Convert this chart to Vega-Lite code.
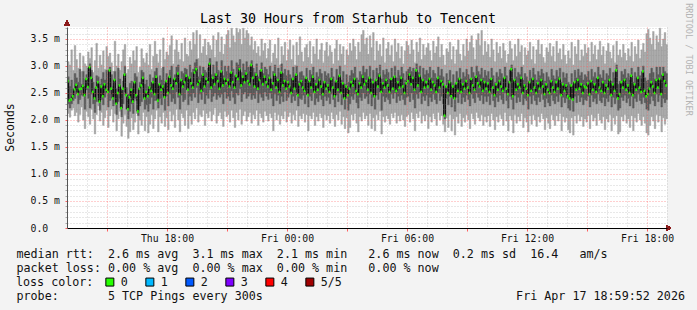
{
"$schema": "https://vega.github.io/schema/vega-lite/v6.json",
"width": 600, "height": 201,
"autosize": {"type": "none"},
"padding": {"left": 67, "top": 27, "right": 30, "bottom": 82},
"background": "#f3f3f3",
"config": {"view": {"fill": "#ffffff", "stroke": null}, "font": "DejaVu Sans Mono"},
"title": {"text": "Last 30 Hours from Starhub to Tencent", "font": "DejaVu Sans Mono", "fontSize": 13.3, "fontWeight": "normal", "color": "#000000", "anchor": "middle", "frame": "group", "dx": -19, "dy": 38, "offset": 4, "baseline": "alphabetic"},
"data": {"values": [
{"t":"2026-04-16T13:00Z","a":2.12,"b":2.30,"m":2.72,"d":2.80,"e":3.08},
{"t":"2026-04-16T13:05Z","a":2.05,"b":2.22,"m":2.36,"d":2.62,"e":3.02},
{"t":"2026-04-16T13:10Z","a":2.18,"b":2.30,"m":2.38,"d":2.74,"e":3.30},
{"t":"2026-04-16T13:15Z","a":2.22,"b":2.36,"m":2.44,"d":2.58,"e":2.92},
{"t":"2026-04-16T13:20Z","a":2.08,"b":2.40,"m":2.57,"d":2.86,"e":3.38},
{"t":"2026-04-16T13:25Z","a":2.14,"b":2.52,"m":2.65,"d":2.78,"e":3.12},
{"t":"2026-04-16T13:30Z","a":1.96,"b":2.30,"m":2.48,"d":2.70,"e":2.96},
{"t":"2026-04-16T13:35Z","a":2.10,"b":2.38,"m":2.57,"d":2.94,"e":3.24},
{"t":"2026-04-16T13:40Z","a":2.24,"b":2.46,"m":2.58,"d":2.66,"e":2.90},
{"t":"2026-04-16T13:45Z","a":2.00,"b":2.44,"m":2.63,"d":2.90,"e":3.18},
{"t":"2026-04-16T13:50Z","a":1.84,"b":2.20,"m":2.46,"d":2.62,"e":3.04},
{"t":"2026-04-16T13:55Z","a":2.16,"b":2.56,"m":2.76,"d":2.84,"e":3.00},
{"t":"2026-04-16T14:00Z","a":2.06,"b":2.40,"m":2.61,"d":2.96,"e":3.26},
{"t":"2026-04-16T14:05Z","a":1.92,"b":2.22,"m":2.98,"d":3.04,"e":3.14},
{"t":"2026-04-16T14:10Z","a":2.20,"b":2.48,"m":2.78,"d":2.92,"e":3.34},
{"t":"2026-04-16T14:15Z","a":2.02,"b":2.30,"m":2.52,"d":2.70,"e":2.88},
{"t":"2026-04-16T14:20Z","a":1.74,"b":2.14,"m":2.40,"d":2.58,"e":3.10},
{"t":"2026-04-16T14:25Z","a":2.10,"b":2.34,"m":2.60,"d":2.82,"e":3.42},
{"t":"2026-04-16T14:30Z","a":2.26,"b":2.46,"m":2.70,"d":2.80,"e":2.96},
{"t":"2026-04-16T14:35Z","a":1.98,"b":2.18,"m":2.34,"d":2.66,"e":3.20},
{"t":"2026-04-16T14:40Z","a":2.14,"b":2.38,"m":2.62,"d":2.76,"e":3.02},
{"t":"2026-04-16T14:45Z","a":1.90,"b":2.28,"m":2.44,"d":2.88,"e":3.28},
{"t":"2026-04-16T14:50Z","a":2.04,"b":2.42,"m":2.66,"d":2.74,"e":2.94},
{"t":"2026-04-16T14:55Z","a":2.18,"b":2.50,"m":2.56,"d":2.92,"e":3.36},
{"t":"2026-04-16T15:00Z","a":1.86,"b":2.24,"m":2.52,"d":2.70,"e":3.18},
{"t":"2026-04-16T15:05Z","a":2.08,"b":2.36,"m":2.92,"d":2.98,"e":3.24},
{"t":"2026-04-16T15:10Z","a":2.20,"b":2.48,"m":2.58,"d":2.84,"e":3.06},
{"t":"2026-04-16T15:15Z","a":1.96,"b":2.26,"m":2.40,"d":2.62,"e":2.90},
{"t":"2026-04-16T15:20Z","a":2.12,"b":2.44,"m":2.74,"d":2.90,"e":3.46},
{"t":"2026-04-16T15:25Z","a":1.80,"b":2.10,"m":2.30,"d":2.58,"e":3.00},
{"t":"2026-04-16T15:30Z","a":2.02,"b":2.34,"m":2.50,"d":2.96,"e":3.22},
{"t":"2026-04-16T15:35Z","a":2.16,"b":2.40,"m":2.64,"d":2.76,"e":2.92},
{"t":"2026-04-16T15:40Z","a":1.70,"b":2.06,"m":2.22,"d":2.54,"e":3.08},
{"t":"2026-04-16T15:45Z","a":1.94,"b":2.30,"m":2.58,"d":2.72,"e":3.30},
{"t":"2026-04-16T15:50Z","a":2.10,"b":2.52,"m":2.84,"d":3.00,"e":3.40},
{"t":"2026-04-16T15:55Z","a":1.88,"b":2.20,"m":2.46,"d":2.60,"e":2.86},
{"t":"2026-04-16T16:00Z","a":1.66,"b":2.02,"m":2.20,"d":2.48,"e":2.94},
{"t":"2026-04-16T16:05Z","a":1.78,"b":2.16,"m":2.42,"d":2.68,"e":3.16},
{"t":"2026-04-16T16:10Z","a":2.04,"b":2.30,"m":2.56,"d":2.72,"e":3.04},
{"t":"2026-04-16T16:15Z","a":1.82,"b":2.12,"m":2.34,"d":2.62,"e":3.28},
{"t":"2026-04-16T16:20Z","a":1.96,"b":2.40,"m":2.70,"d":2.86,"e":3.10},
{"t":"2026-04-16T16:25Z","a":2.12,"b":2.36,"m":2.46,"d":2.80,"e":3.36},
{"t":"2026-04-16T16:30Z","a":1.74,"b":2.08,"m":2.16,"d":2.44,"e":2.88},
{"t":"2026-04-16T16:35Z","a":2.00,"b":2.26,"m":2.58,"d":2.70,"e":2.98},
{"t":"2026-04-16T16:40Z","a":1.90,"b":2.34,"m":2.64,"d":2.92,"e":3.32},
{"t":"2026-04-16T16:45Z","a":2.14,"b":2.50,"m":2.78,"d":2.88,"e":3.14},
{"t":"2026-04-16T16:50Z","a":1.80,"b":2.20,"m":2.40,"d":2.66,"e":3.06},
{"t":"2026-04-16T16:55Z","a":2.06,"b":2.28,"m":2.52,"d":2.74,"e":3.24},
{"t":"2026-04-16T17:00Z","a":1.76,"b":2.16,"m":2.44,"d":2.62,"e":3.02},
{"t":"2026-04-16T17:05Z","a":1.92,"b":2.30,"m":2.60,"d":2.84,"e":3.40},
{"t":"2026-04-16T17:10Z","a":2.10,"b":2.42,"m":2.54,"d":2.70,"e":2.94},
{"t":"2026-04-16T17:15Z","a":1.84,"b":2.20,"m":2.70,"d":2.78,"e":3.18},
{"t":"2026-04-16T17:20Z","a":2.02,"b":2.36,"m":2.48,"d":2.90,"e":3.46},
{"t":"2026-04-16T17:25Z","a":2.18,"b":2.50,"m":2.80,"d":2.96,"e":3.22},
{"t":"2026-04-16T17:30Z","a":1.78,"b":2.22,"m":2.36,"d":2.60,"e":3.06},
{"t":"2026-04-16T17:35Z","a":2.06,"b":2.40,"m":2.66,"d":2.82,"e":3.30},
{"t":"2026-04-16T17:40Z","a":1.94,"b":2.28,"m":2.56,"d":2.74,"e":2.96},
{"t":"2026-04-16T17:45Z","a":2.14,"b":2.46,"m":2.62,"d":2.98,"e":3.52},
{"t":"2026-04-16T17:50Z","a":1.88,"b":2.18,"m":2.42,"d":2.66,"e":3.12},
{"t":"2026-04-16T17:55Z","a":2.04,"b":2.44,"m":2.72,"d":2.86,"e":3.26},
{"t":"2026-04-16T18:00Z","a":1.82,"b":2.26,"m":2.50,"d":2.78,"e":3.20},
{"t":"2026-04-16T18:05Z","a":2.16,"b":2.48,"m":2.80,"d":2.92,"e":3.38},
{"t":"2026-04-16T18:10Z","a":1.98,"b":2.34,"m":2.64,"d":3.00,"e":3.56},
{"t":"2026-04-16T18:15Z","a":2.10,"b":2.40,"m":2.58,"d":2.74,"e":3.04},
{"t":"2026-04-16T18:20Z","a":1.86,"b":2.30,"m":2.76,"d":2.84,"e":3.30},
{"t":"2026-04-16T18:25Z","a":2.20,"b":2.52,"m":2.68,"d":2.98,"e":3.48},
{"t":"2026-04-16T18:30Z","a":2.00,"b":2.42,"m":2.86,"d":3.02,"e":3.26},
{"t":"2026-04-16T18:35Z","a":1.78,"b":2.20,"m":2.48,"d":2.70,"e":3.12},
{"t":"2026-04-16T18:40Z","a":2.12,"b":2.46,"m":2.74,"d":2.90,"e":3.42},
{"t":"2026-04-16T18:45Z","a":2.04,"b":2.34,"m":2.62,"d":2.86,"e":3.08},
{"t":"2026-04-16T18:50Z","a":1.90,"b":2.38,"m":2.70,"d":2.96,"e":3.52},
{"t":"2026-04-16T18:55Z","a":2.18,"b":2.56,"m":2.82,"d":2.94,"e":3.22},
{"t":"2026-04-16T19:00Z","a":1.84,"b":2.28,"m":2.56,"d":2.80,"e":3.18},
{"t":"2026-04-16T19:05Z","a":2.08,"b":2.44,"m":2.78,"d":3.02,"e":3.46},
{"t":"2026-04-16T19:10Z","a":1.92,"b":2.36,"m":2.68,"d":2.88,"e":3.30},
{"t":"2026-04-16T19:15Z","a":2.14,"b":2.50,"m":2.60,"d":2.94,"e":3.62},
{"t":"2026-04-16T19:20Z","a":2.02,"b":2.42,"m":2.88,"d":3.06,"e":3.40},
{"t":"2026-04-16T19:25Z","a":2.22,"b":2.60,"m":2.94,"d":3.12,"e":3.66},
{"t":"2026-04-16T19:30Z","a":1.96,"b":2.32,"m":2.66,"d":2.80,"e":3.14},
{"t":"2026-04-16T19:35Z","a":2.10,"b":2.48,"m":2.72,"d":3.00,"e":3.58},
{"t":"2026-04-16T19:40Z","a":2.06,"b":2.38,"m":2.54,"d":2.78,"e":3.24},
{"t":"2026-04-16T19:45Z","a":2.18,"b":2.52,"m":2.84,"d":2.98,"e":3.36},
{"t":"2026-04-16T19:50Z","a":1.90,"b":2.30,"m":2.62,"d":2.92,"e":3.50},
{"t":"2026-04-16T19:55Z","a":2.12,"b":2.46,"m":2.76,"d":2.88,"e":3.20},
{"t":"2026-04-16T20:00Z","a":2.04,"b":2.40,"m":2.70,"d":2.96,"e":3.44},
{"t":"2026-04-16T20:05Z","a":2.16,"b":2.56,"m":3.04,"d":3.14,"e":3.38},
{"t":"2026-04-16T20:10Z","a":1.98,"b":2.34,"m":2.60,"d":2.84,"e":3.30},
{"t":"2026-04-16T20:15Z","a":2.10,"b":2.44,"m":2.78,"d":3.02,"e":3.56},
{"t":"2026-04-16T20:20Z","a":2.22,"b":2.50,"m":2.66,"d":2.86,"e":3.16},
{"t":"2026-04-16T20:25Z","a":1.94,"b":2.38,"m":2.84,"d":3.08,"e":3.48},
{"t":"2026-04-16T20:30Z","a":2.08,"b":2.46,"m":2.72,"d":2.92,"e":3.62},
{"t":"2026-04-16T20:35Z","a":2.14,"b":2.42,"m":2.58,"d":2.80,"e":3.26},
{"t":"2026-04-16T20:40Z","a":2.02,"b":2.48,"m":2.90,"d":3.10,"e":3.54},
{"t":"2026-04-16T20:45Z","a":1.88,"b":2.30,"m":2.64,"d":2.82,"e":3.22},
{"t":"2026-04-16T20:50Z","a":2.16,"b":2.52,"m":2.76,"d":3.00,"e":3.40},
{"t":"2026-04-16T20:55Z","a":2.06,"b":2.40,"m":2.68,"d":2.90,"e":3.58},
{"t":"2026-04-16T21:00Z","a":2.10,"b":2.44,"m":2.74,"d":3.00,"e":3.66},
{"t":"2026-04-16T21:05Z","a":1.96,"b":2.36,"m":2.62,"d":2.86,"e":3.34},
{"t":"2026-04-16T21:10Z","a":2.18,"b":2.54,"m":2.88,"d":3.10,"e":3.70},
{"t":"2026-04-16T21:15Z","a":2.04,"b":2.42,"m":2.70,"d":2.94,"e":3.56},
{"t":"2026-04-16T21:20Z","a":1.86,"b":2.30,"m":2.60,"d":2.82,"e":3.44},
{"t":"2026-04-16T21:25Z","a":2.14,"b":2.50,"m":2.82,"d":3.06,"e":3.70},
{"t":"2026-04-16T21:30Z","a":2.00,"b":2.46,"m":2.76,"d":3.02,"e":3.62},
{"t":"2026-04-16T21:35Z","a":2.20,"b":2.58,"m":2.94,"d":3.12,"e":3.68},
{"t":"2026-04-16T21:40Z","a":1.92,"b":2.34,"m":2.64,"d":2.88,"e":3.40},
{"t":"2026-04-16T21:45Z","a":2.08,"b":2.48,"m":2.80,"d":3.04,"e":3.70},
{"t":"2026-04-16T21:50Z","a":2.16,"b":2.52,"m":2.70,"d":2.92,"e":3.52},
{"t":"2026-04-16T21:55Z","a":1.98,"b":2.40,"m":2.86,"d":3.08,"e":3.66},
{"t":"2026-04-16T22:00Z","a":2.06,"b":2.44,"m":2.72,"d":2.98,"e":3.60},
{"t":"2026-04-16T22:05Z","a":2.14,"b":2.50,"m":2.66,"d":2.90,"e":3.38},
{"t":"2026-04-16T22:10Z","a":1.94,"b":2.38,"m":3.02,"d":3.10,"e":3.54},
{"t":"2026-04-16T22:15Z","a":2.10,"b":2.46,"m":2.78,"d":2.96,"e":3.30},
{"t":"2026-04-16T22:20Z","a":2.02,"b":2.40,"m":2.62,"d":2.88,"e":3.46},
{"t":"2026-04-16T22:25Z","a":2.18,"b":2.54,"m":2.84,"d":3.04,"e":3.24},
{"t":"2026-04-16T22:30Z","a":1.90,"b":2.32,"m":2.58,"d":2.80,"e":3.36},
{"t":"2026-04-16T22:35Z","a":2.12,"b":2.48,"m":2.74,"d":2.92,"e":3.18},
{"t":"2026-04-16T22:40Z","a":2.04,"b":2.42,"m":2.92,"d":3.06,"e":3.50},
{"t":"2026-04-16T22:45Z","a":1.96,"b":2.36,"m":2.66,"d":2.86,"e":3.28},
{"t":"2026-04-16T22:50Z","a":2.16,"b":2.52,"m":2.80,"d":2.98,"e":3.42},
{"t":"2026-04-16T22:55Z","a":2.08,"b":2.44,"m":2.70,"d":2.94,"e":3.14},
{"t":"2026-04-16T23:00Z","a":1.98,"b":2.38,"m":2.62,"d":2.84,"e":3.32},
{"t":"2026-04-16T23:05Z","a":2.12,"b":2.50,"m":2.78,"d":3.00,"e":3.48},
{"t":"2026-04-16T23:10Z","a":2.04,"b":2.40,"m":2.56,"d":2.76,"e":3.06},
{"t":"2026-04-16T23:15Z","a":1.80,"b":2.26,"m":2.68,"d":2.90,"e":3.24},
{"t":"2026-04-16T23:20Z","a":2.14,"b":2.48,"m":2.84,"d":3.02,"e":3.40},
{"t":"2026-04-16T23:25Z","a":2.00,"b":2.36,"m":2.60,"d":2.80,"e":3.14},
{"t":"2026-04-16T23:30Z","a":2.10,"b":2.46,"m":2.74,"d":2.96,"e":3.52},
{"t":"2026-04-16T23:35Z","a":1.92,"b":2.30,"m":2.52,"d":2.74,"e":3.02},
{"t":"2026-04-16T23:40Z","a":2.08,"b":2.44,"m":2.88,"d":3.04,"e":3.36},
{"t":"2026-04-16T23:45Z","a":2.02,"b":2.34,"m":2.64,"d":2.86,"e":3.20},
{"t":"2026-04-16T23:50Z","a":2.16,"b":2.52,"m":2.72,"d":2.94,"e":3.44},
{"t":"2026-04-16T23:55Z","a":1.96,"b":2.36,"m":2.58,"d":2.82,"e":3.10},
{"t":"2026-04-17T00:00Z","a":2.06,"b":2.42,"m":2.70,"d":2.92,"e":3.30},
{"t":"2026-04-17T00:05Z","a":2.14,"b":2.48,"m":2.62,"d":2.84,"e":3.48},
{"t":"2026-04-17T00:10Z","a":1.94,"b":2.32,"m":2.50,"d":2.78,"e":3.12},
{"t":"2026-04-17T00:15Z","a":2.10,"b":2.44,"m":2.76,"d":2.98,"e":3.38},
{"t":"2026-04-17T00:20Z","a":2.00,"b":2.36,"m":2.58,"d":2.80,"e":3.02},
{"t":"2026-04-17T00:25Z","a":2.18,"b":2.52,"m":2.84,"d":3.00,"e":3.44},
{"t":"2026-04-17T00:30Z","a":1.88,"b":2.26,"m":2.46,"d":2.72,"e":3.20},
{"t":"2026-04-17T00:35Z","a":2.08,"b":2.40,"m":2.66,"d":2.88,"e":3.54},
{"t":"2026-04-17T00:40Z","a":2.02,"b":2.38,"m":2.72,"d":2.90,"e":3.26},
{"t":"2026-04-17T00:45Z","a":2.12,"b":2.46,"m":2.60,"d":2.82,"e":3.08},
{"t":"2026-04-17T00:50Z","a":1.96,"b":2.30,"m":2.54,"d":2.76,"e":3.34},
{"t":"2026-04-17T00:55Z","a":2.10,"b":2.48,"m":2.78,"d":2.96,"e":3.40},
{"t":"2026-04-17T01:00Z","a":1.80,"b":2.24,"m":2.46,"d":2.70,"e":3.16},
{"t":"2026-04-17T01:05Z","a":2.08,"b":2.44,"m":2.72,"d":2.92,"e":3.46},
{"t":"2026-04-17T01:10Z","a":2.02,"b":2.36,"m":2.60,"d":2.84,"e":3.04},
{"t":"2026-04-17T01:15Z","a":2.14,"b":2.50,"m":2.80,"d":2.98,"e":3.36},
{"t":"2026-04-17T01:20Z","a":1.90,"b":2.28,"m":2.52,"d":2.74,"e":3.22},
{"t":"2026-04-17T01:25Z","a":2.06,"b":2.40,"m":2.66,"d":2.88,"e":3.50},
{"t":"2026-04-17T01:30Z","a":1.98,"b":2.34,"m":2.56,"d":2.80,"e":3.12},
{"t":"2026-04-17T01:35Z","a":2.12,"b":2.46,"m":2.74,"d":2.94,"e":3.30},
{"t":"2026-04-17T01:40Z","a":2.04,"b":2.38,"m":2.62,"d":2.86,"e":3.42},
{"t":"2026-04-17T01:45Z","a":1.86,"b":2.26,"m":2.48,"d":2.72,"e":3.06},
{"t":"2026-04-17T01:50Z","a":2.10,"b":2.44,"m":2.70,"d":2.90,"e":3.28},
{"t":"2026-04-17T01:55Z","a":2.00,"b":2.36,"m":2.58,"d":2.82,"e":3.44},
{"t":"2026-04-17T02:00Z","a":2.08,"b":2.42,"m":2.64,"d":2.86,"e":3.18},
{"t":"2026-04-17T02:05Z","a":1.94,"b":2.30,"m":2.52,"d":2.78,"e":3.38},
{"t":"2026-04-17T02:10Z","a":2.14,"b":2.48,"m":2.76,"d":2.96,"e":3.26},
{"t":"2026-04-17T02:15Z","a":2.02,"b":2.38,"m":2.60,"d":2.80,"e":3.04},
{"t":"2026-04-17T02:20Z","a":1.88,"b":2.24,"m":2.44,"d":2.70,"e":3.32},
{"t":"2026-04-17T02:25Z","a":2.10,"b":2.46,"m":2.72,"d":2.94,"e":3.48},
{"t":"2026-04-17T02:30Z","a":2.00,"b":2.34,"m":2.56,"d":2.78,"e":3.10},
{"t":"2026-04-17T02:35Z","a":2.16,"b":2.50,"m":2.82,"d":3.00,"e":3.40},
{"t":"2026-04-17T02:40Z","a":1.92,"b":2.28,"m":2.50,"d":2.74,"e":3.22},
{"t":"2026-04-17T02:45Z","a":2.06,"b":2.42,"m":2.68,"d":2.90,"e":3.36},
{"t":"2026-04-17T02:50Z","a":1.84,"b":2.20,"m":2.40,"d":2.66,"e":3.02},
{"t":"2026-04-17T02:55Z","a":2.04,"b":2.40,"m":2.62,"d":2.84,"e":3.30},
{"t":"2026-04-17T03:00Z","a":1.76,"b":2.18,"m":2.46,"d":2.70,"e":3.20},
{"t":"2026-04-17T03:05Z","a":1.86,"b":2.30,"m":2.58,"d":2.82,"e":3.42},
{"t":"2026-04-17T03:10Z","a":2.10,"b":2.44,"m":2.70,"d":2.92,"e":3.28},
{"t":"2026-04-17T03:15Z","a":2.00,"b":2.38,"m":2.64,"d":2.86,"e":3.50},
{"t":"2026-04-17T03:20Z","a":2.12,"b":2.48,"m":2.76,"d":2.98,"e":3.36},
{"t":"2026-04-17T03:25Z","a":1.94,"b":2.32,"m":2.54,"d":2.78,"e":3.12},
{"t":"2026-04-17T03:30Z","a":1.78,"b":2.22,"m":2.48,"d":2.74,"e":3.44},
{"t":"2026-04-17T03:35Z","a":2.06,"b":2.42,"m":2.68,"d":2.90,"e":3.26},
{"t":"2026-04-17T03:40Z","a":1.98,"b":2.36,"m":2.60,"d":2.84,"e":3.58},
{"t":"2026-04-17T03:45Z","a":2.14,"b":2.50,"m":2.80,"d":3.00,"e":3.66},
{"t":"2026-04-17T03:50Z","a":2.02,"b":2.40,"m":2.66,"d":2.88,"e":3.40},
{"t":"2026-04-17T03:55Z","a":2.08,"b":2.44,"m":2.72,"d":2.94,"e":3.52},
{"t":"2026-04-17T04:00Z","a":1.90,"b":2.30,"m":2.56,"d":2.80,"e":3.22},
{"t":"2026-04-17T04:05Z","a":2.12,"b":2.48,"m":2.78,"d":3.00,"e":3.56},
{"t":"2026-04-17T04:10Z","a":1.84,"b":2.26,"m":2.50,"d":2.76,"e":3.34},
{"t":"2026-04-17T04:15Z","a":2.04,"b":2.42,"m":2.70,"d":2.92,"e":3.62},
{"t":"2026-04-17T04:20Z","a":1.80,"b":2.20,"m":2.44,"d":2.70,"e":3.10},
{"t":"2026-04-17T04:25Z","a":2.10,"b":2.46,"m":2.74,"d":2.96,"e":3.46},
{"t":"2026-04-17T04:30Z","a":2.00,"b":2.38,"m":2.62,"d":2.86,"e":3.28},
{"t":"2026-04-17T04:35Z","a":2.16,"b":2.52,"m":2.82,"d":3.02,"e":3.40},
{"t":"2026-04-17T04:40Z","a":1.74,"b":2.18,"m":2.52,"d":2.76,"e":3.18},
{"t":"2026-04-17T04:45Z","a":2.06,"b":2.44,"m":2.68,"d":2.92,"e":3.52},
{"t":"2026-04-17T04:50Z","a":1.96,"b":2.34,"m":2.60,"d":2.84,"e":3.06},
{"t":"2026-04-17T04:55Z","a":2.08,"b":2.42,"m":2.74,"d":2.94,"e":3.32},
{"t":"2026-04-17T05:00Z","a":2.02,"b":2.38,"m":2.64,"d":2.88,"e":3.44},
{"t":"2026-04-17T05:05Z","a":1.92,"b":2.30,"m":2.52,"d":2.76,"e":3.20},
{"t":"2026-04-17T05:10Z","a":2.12,"b":2.48,"m":2.76,"d":2.96,"e":3.38},
{"t":"2026-04-17T05:15Z","a":2.04,"b":2.40,"m":2.58,"d":2.80,"e":3.08},
{"t":"2026-04-17T05:20Z","a":2.14,"b":2.50,"m":2.80,"d":3.00,"e":3.50},
{"t":"2026-04-17T05:25Z","a":1.94,"b":2.32,"m":2.54,"d":2.78,"e":3.26},
{"t":"2026-04-17T05:30Z","a":2.08,"b":2.44,"m":2.70,"d":2.92,"e":3.42},
{"t":"2026-04-17T05:35Z","a":1.98,"b":2.36,"m":2.60,"d":2.82,"e":3.14},
{"t":"2026-04-17T05:40Z","a":2.10,"b":2.46,"m":2.78,"d":2.98,"e":3.36},
{"t":"2026-04-17T05:45Z","a":2.00,"b":2.38,"m":2.62,"d":2.86,"e":3.04},
{"t":"2026-04-17T05:50Z","a":1.88,"b":2.28,"m":2.50,"d":2.74,"e":3.28},
{"t":"2026-04-17T05:55Z","a":2.06,"b":2.42,"m":2.68,"d":2.90,"e":3.46},
{"t":"2026-04-17T06:00Z","a":2.10,"b":2.44,"m":2.72,"d":2.94,"e":3.38},
{"t":"2026-04-17T06:05Z","a":1.96,"b":2.34,"m":2.84,"d":2.98,"e":3.22},
{"t":"2026-04-17T06:10Z","a":2.14,"b":2.50,"m":2.66,"d":2.90,"e":3.48},
{"t":"2026-04-17T06:15Z","a":2.02,"b":2.38,"m":2.78,"d":2.96,"e":3.30},
{"t":"2026-04-17T06:20Z","a":1.80,"b":2.22,"m":2.56,"d":2.80,"e":3.06},
{"t":"2026-04-17T06:25Z","a":2.12,"b":2.48,"m":2.92,"d":3.04,"e":3.44},
{"t":"2026-04-17T06:30Z","a":2.04,"b":2.40,"m":2.64,"d":2.88,"e":3.26},
{"t":"2026-04-17T06:35Z","a":2.16,"b":2.52,"m":2.82,"d":3.00,"e":3.52},
{"t":"2026-04-17T06:40Z","a":1.94,"b":2.30,"m":2.52,"d":2.76,"e":3.12},
{"t":"2026-04-17T06:45Z","a":2.08,"b":2.44,"m":2.74,"d":2.96,"e":3.40},
{"t":"2026-04-17T06:50Z","a":1.98,"b":2.36,"m":2.60,"d":2.84,"e":3.20},
{"t":"2026-04-17T06:55Z","a":2.10,"b":2.46,"m":2.70,"d":2.92,"e":3.34},
{"t":"2026-04-17T07:00Z","a":1.84,"b":2.26,"m":2.62,"d":2.86,"e":3.42},
{"t":"2026-04-17T07:05Z","a":2.06,"b":2.42,"m":2.76,"d":2.98,"e":3.28},
{"t":"2026-04-17T07:10Z","a":1.96,"b":2.34,"m":2.56,"d":2.78,"e":3.10},
{"t":"2026-04-17T07:15Z","a":2.12,"b":2.48,"m":2.70,"d":2.92,"e":3.46},
{"t":"2026-04-17T07:20Z","a":2.02,"b":2.38,"m":2.64,"d":2.86,"e":3.24},
{"t":"2026-04-17T07:25Z","a":1.90,"b":2.30,"m":2.52,"d":2.74,"e":3.36},
{"t":"2026-04-17T07:30Z","a":2.14,"b":2.50,"m":2.78,"d":2.98,"e":3.54},
{"t":"2026-04-17T07:35Z","a":2.00,"b":2.36,"m":2.60,"d":2.82,"e":3.16},
{"t":"2026-04-17T07:40Z","a":2.08,"b":2.44,"m":2.72,"d":2.94,"e":3.40},
{"t":"2026-04-17T07:45Z","a":1.92,"b":2.30,"m":2.66,"d":2.80,"e":3.20},
{"t":"2026-04-17T07:50Z","a":1.78,"b":2.02,"m":2.08,"d":2.50,"e":3.02},
{"t":"2026-04-17T07:55Z","a":2.04,"b":2.40,"m":2.62,"d":2.86,"e":3.32},
{"t":"2026-04-17T08:00Z","a":1.86,"b":2.28,"m":2.50,"d":2.74,"e":3.26},
{"t":"2026-04-17T08:05Z","a":2.10,"b":2.44,"m":2.70,"d":2.92,"e":3.44},
{"t":"2026-04-17T08:10Z","a":1.80,"b":2.24,"m":2.44,"d":2.70,"e":3.12},
{"t":"2026-04-17T08:15Z","a":2.02,"b":2.40,"m":2.62,"d":2.84,"e":3.36},
{"t":"2026-04-17T08:20Z","a":1.72,"b":2.16,"m":2.40,"d":2.64,"e":3.04},
{"t":"2026-04-17T08:25Z","a":2.06,"b":2.42,"m":2.68,"d":2.90,"e":3.30},
{"t":"2026-04-17T08:30Z","a":1.94,"b":2.32,"m":2.54,"d":2.78,"e":3.48},
{"t":"2026-04-17T08:35Z","a":2.12,"b":2.48,"m":2.76,"d":2.96,"e":3.22},
{"t":"2026-04-17T08:40Z","a":1.88,"b":2.30,"m":2.52,"d":2.76,"e":3.10},
{"t":"2026-04-17T08:45Z","a":2.04,"b":2.42,"m":2.66,"d":2.88,"e":3.40},
{"t":"2026-04-17T08:50Z","a":1.96,"b":2.34,"m":2.58,"d":2.80,"e":3.18},
{"t":"2026-04-17T08:55Z","a":2.10,"b":2.46,"m":2.72,"d":2.94,"e":3.50},
{"t":"2026-04-17T09:00Z","a":2.00,"b":2.38,"m":2.60,"d":2.84,"e":3.28},
{"t":"2026-04-17T09:05Z","a":1.84,"b":2.26,"m":2.50,"d":2.76,"e":3.44},
{"t":"2026-04-17T09:10Z","a":2.12,"b":2.48,"m":2.76,"d":2.98,"e":3.56},
{"t":"2026-04-17T09:15Z","a":2.02,"b":2.40,"m":2.64,"d":2.88,"e":3.34},
{"t":"2026-04-17T09:20Z","a":1.92,"b":2.32,"m":2.56,"d":2.80,"e":3.12},
{"t":"2026-04-17T09:25Z","a":2.14,"b":2.50,"m":2.80,"d":3.00,"e":3.48},
{"t":"2026-04-17T09:30Z","a":2.04,"b":2.42,"m":2.68,"d":2.90,"e":3.60},
{"t":"2026-04-17T09:35Z","a":1.98,"b":2.36,"m":2.62,"d":2.84,"e":3.38},
{"t":"2026-04-17T09:40Z","a":2.10,"b":2.46,"m":2.74,"d":2.96,"e":3.66},
{"t":"2026-04-17T09:45Z","a":1.90,"b":2.30,"m":2.54,"d":2.78,"e":3.20},
{"t":"2026-04-17T09:50Z","a":2.06,"b":2.44,"m":2.70,"d":2.92,"e":3.46},
{"t":"2026-04-17T09:55Z","a":1.96,"b":2.34,"m":2.58,"d":2.82,"e":3.26},
{"t":"2026-04-17T10:00Z","a":2.08,"b":2.44,"m":2.68,"d":2.90,"e":3.40},
{"t":"2026-04-17T10:05Z","a":1.88,"b":2.28,"m":2.52,"d":2.76,"e":3.16},
{"t":"2026-04-17T10:10Z","a":2.12,"b":2.48,"m":2.76,"d":2.96,"e":3.50},
{"t":"2026-04-17T10:15Z","a":2.00,"b":2.36,"m":2.60,"d":2.82,"e":3.30},
{"t":"2026-04-17T10:20Z","a":1.82,"b":2.24,"m":2.46,"d":2.70,"e":3.08},
{"t":"2026-04-17T10:25Z","a":2.06,"b":2.42,"m":2.66,"d":2.88,"e":3.44},
{"t":"2026-04-17T10:30Z","a":1.96,"b":2.34,"m":2.56,"d":2.80,"e":3.24},
{"t":"2026-04-17T10:35Z","a":2.10,"b":2.46,"m":2.72,"d":2.94,"e":3.36},
{"t":"2026-04-17T10:40Z","a":2.02,"b":2.38,"m":2.62,"d":2.86,"e":3.14},
{"t":"2026-04-17T10:45Z","a":1.90,"b":2.30,"m":2.54,"d":2.78,"e":3.42},
{"t":"2026-04-17T10:50Z","a":2.14,"b":2.50,"m":2.78,"d":2.98,"e":3.28},
{"t":"2026-04-17T10:55Z","a":1.98,"b":2.36,"m":2.58,"d":2.82,"e":3.06},
{"t":"2026-04-17T11:00Z","a":1.80,"b":2.22,"m":2.48,"d":2.72,"e":3.22},
{"t":"2026-04-17T11:05Z","a":2.08,"b":2.44,"m":2.70,"d":2.92,"e":3.46},
{"t":"2026-04-17T11:10Z","a":2.00,"b":2.38,"m":2.94,"d":3.02,"e":3.32},
{"t":"2026-04-17T11:15Z","a":1.76,"b":2.20,"m":2.44,"d":2.70,"e":3.10},
{"t":"2026-04-17T11:20Z","a":2.10,"b":2.46,"m":2.74,"d":2.96,"e":3.40},
{"t":"2026-04-17T11:25Z","a":1.94,"b":2.32,"m":2.56,"d":2.80,"e":3.18},
{"t":"2026-04-17T11:30Z","a":2.06,"b":2.42,"m":2.66,"d":2.88,"e":3.50},
{"t":"2026-04-17T11:35Z","a":1.98,"b":2.34,"m":2.60,"d":2.84,"e":3.26},
{"t":"2026-04-17T11:40Z","a":2.12,"b":2.48,"m":2.78,"d":2.98,"e":3.38},
{"t":"2026-04-17T11:45Z","a":1.86,"b":2.28,"m":2.50,"d":2.74,"e":3.02},
{"t":"2026-04-17T11:50Z","a":2.04,"b":2.40,"m":2.64,"d":2.86,"e":3.34},
{"t":"2026-04-17T11:55Z","a":1.96,"b":2.36,"m":2.58,"d":2.80,"e":3.20},
{"t":"2026-04-17T12:00Z","a":1.78,"b":2.20,"m":2.46,"d":2.72,"e":3.28},
{"t":"2026-04-17T12:05Z","a":2.08,"b":2.44,"m":2.70,"d":2.92,"e":3.44},
{"t":"2026-04-17T12:10Z","a":1.92,"b":2.30,"m":2.54,"d":2.78,"e":3.12},
{"t":"2026-04-17T12:15Z","a":2.10,"b":2.46,"m":2.76,"d":2.96,"e":3.36},
{"t":"2026-04-17T12:20Z","a":2.00,"b":2.36,"m":2.60,"d":2.84,"e":3.04},
{"t":"2026-04-17T12:25Z","a":1.88,"b":2.28,"m":2.50,"d":2.74,"e":3.30},
{"t":"2026-04-17T12:30Z","a":2.06,"b":2.42,"m":2.68,"d":2.90,"e":3.48},
{"t":"2026-04-17T12:35Z","a":1.96,"b":2.34,"m":2.58,"d":2.82,"e":3.22},
{"t":"2026-04-17T12:40Z","a":2.12,"b":2.48,"m":2.74,"d":2.94,"e":3.40},
{"t":"2026-04-17T12:45Z","a":2.02,"b":2.38,"m":2.62,"d":2.86,"e":3.16},
{"t":"2026-04-17T12:50Z","a":1.82,"b":2.24,"m":2.48,"d":2.72,"e":3.06},
{"t":"2026-04-17T12:55Z","a":2.04,"b":2.40,"m":2.66,"d":2.88,"e":3.34},
{"t":"2026-04-17T13:00Z","a":1.94,"b":2.32,"m":2.56,"d":2.80,"e":3.26},
{"t":"2026-04-17T13:05Z","a":1.84,"b":2.26,"m":2.50,"d":2.74,"e":3.42},
{"t":"2026-04-17T13:10Z","a":2.10,"b":2.46,"m":2.72,"d":2.94,"e":3.18},
{"t":"2026-04-17T13:15Z","a":2.00,"b":2.36,"m":2.60,"d":2.82,"e":3.36},
{"t":"2026-04-17T13:20Z","a":1.90,"b":2.30,"m":2.52,"d":2.76,"e":3.08},
{"t":"2026-04-17T13:25Z","a":2.08,"b":2.44,"m":2.70,"d":2.92,"e":3.46},
{"t":"2026-04-17T13:30Z","a":1.98,"b":2.34,"m":2.58,"d":2.80,"e":3.24},
{"t":"2026-04-17T13:35Z","a":2.12,"b":2.48,"m":2.76,"d":2.96,"e":3.32},
{"t":"2026-04-17T13:40Z","a":1.80,"b":2.24,"m":2.46,"d":2.70,"e":3.12},
{"t":"2026-04-17T13:45Z","a":2.06,"b":2.42,"m":2.66,"d":2.88,"e":3.40},
{"t":"2026-04-17T13:50Z","a":1.96,"b":2.32,"m":2.54,"d":2.78,"e":3.20},
{"t":"2026-04-17T13:55Z","a":2.04,"b":2.40,"m":2.64,"d":2.86,"e":3.04},
{"t":"2026-04-17T14:00Z","a":1.82,"b":2.22,"m":2.44,"d":2.70,"e":3.28},
{"t":"2026-04-17T14:05Z","a":1.76,"b":2.18,"m":2.40,"d":2.66,"e":3.14},
{"t":"2026-04-17T14:10Z","a":2.04,"b":2.40,"m":2.64,"d":2.86,"e":3.44},
{"t":"2026-04-17T14:15Z","a":1.72,"b":2.16,"m":2.38,"d":2.62,"e":3.02},
{"t":"2026-04-17T14:20Z","a":2.08,"b":2.44,"m":2.70,"d":2.92,"e":3.36},
{"t":"2026-04-17T14:25Z","a":1.94,"b":2.32,"m":2.56,"d":2.78,"e":3.22},
{"t":"2026-04-17T14:30Z","a":2.10,"b":2.46,"m":2.74,"d":2.94,"e":3.48},
{"t":"2026-04-17T14:35Z","a":1.98,"b":2.34,"m":2.58,"d":2.82,"e":3.10},
{"t":"2026-04-17T14:40Z","a":2.06,"b":2.42,"m":2.66,"d":2.88,"e":3.30},
{"t":"2026-04-17T14:45Z","a":1.88,"b":2.28,"m":2.50,"d":2.74,"e":3.18},
{"t":"2026-04-17T14:50Z","a":2.02,"b":2.38,"m":2.62,"d":2.84,"e":3.40},
{"t":"2026-04-17T14:55Z","a":1.96,"b":2.36,"m":2.60,"d":2.80,"e":3.24},
{"t":"2026-04-17T15:00Z","a":2.08,"b":2.44,"m":2.68,"d":2.90,"e":3.34},
{"t":"2026-04-17T15:05Z","a":1.84,"b":2.24,"m":2.48,"d":2.74,"e":3.08},
{"t":"2026-04-17T15:10Z","a":2.10,"b":2.46,"m":2.72,"d":2.94,"e":3.44},
{"t":"2026-04-17T15:15Z","a":1.98,"b":2.34,"m":2.56,"d":2.80,"e":3.22},
{"t":"2026-04-17T15:20Z","a":2.04,"b":2.40,"m":2.66,"d":2.88,"e":3.38},
{"t":"2026-04-17T15:25Z","a":1.90,"b":2.30,"m":2.52,"d":2.76,"e":3.12},
{"t":"2026-04-17T15:30Z","a":2.12,"b":2.48,"m":2.78,"d":2.98,"e":3.30},
{"t":"2026-04-17T15:35Z","a":2.00,"b":2.36,"m":2.60,"d":2.84,"e":3.46},
{"t":"2026-04-17T15:40Z","a":1.94,"b":2.32,"m":2.54,"d":2.78,"e":3.20},
{"t":"2026-04-17T15:45Z","a":2.06,"b":2.42,"m":2.70,"d":2.92,"e":3.36},
{"t":"2026-04-17T15:50Z","a":1.82,"b":2.26,"m":2.50,"d":2.74,"e":3.04},
{"t":"2026-04-17T15:55Z","a":2.02,"b":2.40,"m":2.64,"d":2.86,"e":3.28},
{"t":"2026-04-17T16:00Z","a":1.96,"b":2.34,"m":2.58,"d":2.82,"e":3.42},
{"t":"2026-04-17T16:05Z","a":2.10,"b":2.46,"m":2.74,"d":2.96,"e":3.26},
{"t":"2026-04-17T16:10Z","a":1.80,"b":2.24,"m":2.46,"d":2.72,"e":3.14},
{"t":"2026-04-17T16:15Z","a":2.04,"b":2.42,"m":2.66,"d":2.88,"e":3.38},
{"t":"2026-04-17T16:20Z","a":1.92,"b":2.30,"m":2.54,"d":2.78,"e":3.06},
{"t":"2026-04-17T16:25Z","a":2.08,"b":2.44,"m":2.92,"d":3.02,"e":3.46},
{"t":"2026-04-17T16:30Z","a":1.74,"b":2.18,"m":2.40,"d":2.66,"e":3.20},
{"t":"2026-04-17T16:35Z","a":1.78,"b":2.22,"m":2.48,"d":2.72,"e":3.30},
{"t":"2026-04-17T16:40Z","a":2.06,"b":2.42,"m":2.70,"d":2.90,"e":3.16},
{"t":"2026-04-17T16:45Z","a":1.98,"b":2.36,"m":2.60,"d":2.84,"e":3.40},
{"t":"2026-04-17T16:50Z","a":2.10,"b":2.46,"m":2.74,"d":2.94,"e":3.24},
{"t":"2026-04-17T16:55Z","a":1.94,"b":2.32,"m":2.56,"d":2.78,"e":3.10},
{"t":"2026-04-17T17:00Z","a":2.02,"b":2.40,"m":2.64,"d":2.86,"e":3.32},
{"t":"2026-04-17T17:05Z","a":1.86,"b":2.26,"m":2.50,"d":2.74,"e":3.18},
{"t":"2026-04-17T17:10Z","a":2.08,"b":2.44,"m":2.82,"d":2.96,"e":3.44},
{"t":"2026-04-17T17:15Z","a":1.80,"b":2.22,"m":2.46,"d":2.70,"e":3.08},
{"t":"2026-04-17T17:20Z","a":2.04,"b":2.40,"m":2.66,"d":2.88,"e":3.36},
{"t":"2026-04-17T17:25Z","a":1.96,"b":2.34,"m":2.56,"d":2.80,"e":3.22},
{"t":"2026-04-17T17:30Z","a":2.12,"b":2.48,"m":2.78,"d":2.98,"e":3.48},
{"t":"2026-04-17T17:35Z","a":2.00,"b":2.36,"m":2.60,"d":2.82,"e":3.14},
{"t":"2026-04-17T17:40Z","a":1.90,"b":2.30,"m":2.52,"d":2.76,"e":3.30},
{"t":"2026-04-17T17:45Z","a":2.06,"b":2.42,"m":2.90,"d":3.00,"e":3.42},
{"t":"2026-04-17T17:50Z","a":1.94,"b":2.32,"m":2.54,"d":2.78,"e":3.26},
{"t":"2026-04-17T17:55Z","a":1.76,"b":2.20,"m":2.44,"d":2.72,"e":3.60},
{"t":"2026-04-17T18:00Z","a":1.72,"b":2.18,"m":2.48,"d":2.74,"e":3.68},
{"t":"2026-04-17T18:05Z","a":1.90,"b":2.30,"m":2.58,"d":2.86,"e":3.52},
{"t":"2026-04-17T18:10Z","a":2.06,"b":2.44,"m":2.70,"d":2.96,"e":3.40},
{"t":"2026-04-17T18:15Z","a":1.98,"b":2.36,"m":2.62,"d":2.88,"e":3.64},
{"t":"2026-04-17T18:20Z","a":1.84,"b":2.26,"m":2.50,"d":2.76,"e":3.30},
{"t":"2026-04-17T18:25Z","a":2.10,"b":2.48,"m":2.74,"d":2.98,"e":3.56},
{"t":"2026-04-17T18:30Z","a":1.96,"b":2.34,"m":2.60,"d":2.84,"e":3.44},
{"t":"2026-04-17T18:35Z","a":2.08,"b":2.46,"m":2.76,"d":2.98,"e":3.70},
{"t":"2026-04-17T18:40Z","a":1.78,"b":2.24,"m":2.48,"d":2.74,"e":3.36},
{"t":"2026-04-17T18:45Z","a":2.04,"b":2.40,"m":2.84,"d":2.98,"e":3.50},
{"t":"2026-04-17T18:50Z","a":1.92,"b":2.32,"m":2.72,"d":2.90,"e":3.62},
{"t":"2026-04-17T18:55Z","a":2.02,"b":2.38,"m":2.64,"d":2.86,"e":3.40}
]},
"layer": [
{
"mark": {"type": "bar", "color": "#a4a4a4", "stroke": "#a4a4a4", "strokeWidth": 0.4, "binSpacing": 0},
"encoding": {
"x": {"field": "t", "type": "temporal", "timeUnit": {"unit": "utcyearmonthdatehoursminutes", "step": 5},
"scale": {"type": "utc", "domain": [{"year": 2026, "month": 4, "date": 16, "hours": 13, "utc": true}, {"year": 2026, "month": 4, "date": 17, "hours": 19, "utc": true}]},
"axis": null},
"y": {"field": "a", "type": "quantitative", "scale": {"domain": [0, 3.722], "nice": false},
"axis": {
"values": [0, 0.1, 0.2, 0.3, 0.4, 0.5, 0.6, 0.7, 0.8, 0.9, 1.0, 1.1, 1.2, 1.3, 1.4, 1.5, 1.6, 1.7, 1.8, 1.9, 2.0, 2.1, 2.2, 2.3, 2.4, 2.5, 2.6, 2.7, 2.8, 2.9, 3.0, 3.1, 3.2, 3.3, 3.4, 3.5, 3.6, 3.7],
"labelExpr": "abs(datum.value * 2 - round(datum.value * 2)) < 0.01 ? (datum.value == 0 ? '0.0' : format(datum.value, '.1f') + ' m') : ''",
"labelAlign": "left", "labelPadding": 35, "labelFont": "DejaVu Sans Mono", "labelFontSize": 9.8, "labelColor": "#111111", "labelOverlap": false,
"grid": true, "gridDash": [1, 2],
"gridColor": {"condition": {"test": "abs(datum.value * 2 - round(datum.value * 2)) < 0.01", "value": "rgba(255,95,95,0.6)"}, "value": "rgba(140,140,140,0.4)"},
"tickSize": 2,
"tickColor": {"condition": {"test": "abs(datum.value * 2 - round(datum.value * 2)) < 0.01", "value": "#ff5f5f"}, "value": "#aaaaaa"},
"domainColor": "#555555",
"title": "Seconds", "titleX": -57, "titleY": 100, "titleAngle": 270, "titleAlign": "center", "titleBaseline": "middle", "titleFont": "DejaVu Sans Mono", "titleFontSize": 11.5, "titleFontWeight": "normal", "titleColor": "#111111",
"zindex": 1
}},
"y2": {"field": "e"}
}
},
{
"mark": {"type": "bar", "color": "#585858", "stroke": "#585858", "strokeWidth": 0.4, "binSpacing": 0},
"encoding": {
"x": {"field": "t", "type": "temporal", "timeUnit": {"unit": "utcyearmonthdatehoursminutes", "step": 5},
"scale": {"type": "utc", "domain": [{"year": 2026, "month": 4, "date": 16, "hours": 13, "utc": true}, {"year": 2026, "month": 4, "date": 17, "hours": 19, "utc": true}]},
"axis": null},
"y": {"field": "b", "type": "quantitative", "axis": null},
"y2": {"field": "d"}
}
},
{
"mark": {"type": "line", "interpolate": "step-after", "color": "#000000", "strokeWidth": 1},
"encoding": {
"x": {"field": "t", "type": "temporal", "timeUnit": {"unit": "utcyearmonthdatehoursminutes", "step": 5}, "bandPosition": 0,
"scale": {"type": "utc", "domain": [{"year": 2026, "month": 4, "date": 16, "hours": 13, "utc": true}, {"year": 2026, "month": 4, "date": 17, "hours": 19, "utc": true}]},
"axis": null},
"y": {"field": "m", "type": "quantitative",
"axis": {"orient": "right", "labels": false, "ticks": false, "domain": false, "grid": false,
"title": "RRDTOOL / TOBI OETIKER", "titleAngle": 90, "titleX": 21, "titleY": 32, "titleAlign": "center", "titleBaseline": "middle", "titleColor": "#b4b4b4", "titleFont": "DejaVu Sans Mono", "titleFontSize": 8.5, "titleFontWeight": "normal"}}
}
},
{
"mark": {"type": "tick", "orient": "horizontal", "thickness": 2.6, "size": 1.8, "opacity": 1},
"encoding": {
"x": {"field": "t", "type": "temporal", "timeUnit": {"unit": "utcyearmonthdatehoursminutes", "step": 5}, "bandPosition": 0.5,
"scale": {"type": "utc", "domain": [{"year": 2026, "month": 4, "date": 16, "hours": 13, "utc": true}, {"year": 2026, "month": 4, "date": 17, "hours": 19, "utc": true}]},
"axis": null},
"y": {"field": "m", "type": "quantitative", "axis": null},
"color": {"datum": "0", "type": "nominal",
"scale": {"domain": ["0", "1", "2", "3", "4", "5/5"], "range": ["#26ff00", "#00b8ff", "#0059ff", "#7e00ff", "#ff0000", "#a00000"]},
"legend": {"orient": "none", "legendX": -51, "legendY": 249, "direction": "horizontal", "title": "loss color:", "titleOrient": "left", "titleFont": "DejaVu Sans Mono", "titleFontSize": 11.7, "titleFontWeight": "normal", "titleColor": "#111111", "titlePadding": 10, "labelFont": "DejaVu Sans Mono", "labelFontSize": 11.7, "labelColor": "#111111", "labelOffset": 5, "columnPadding": 15, "symbolType": "square", "symbolSize": 64, "symbolStrokeColor": "#000000", "symbolStrokeWidth": 1, "symbolOpacity": 1, "padding": 0}}
}
},
{
"mark": {"type": "point", "filled": true, "opacity": 1, "color": "#8b1a1a", "clip": false, "shape": "triangle-up", "size": 30},
"encoding": {
"x": {"datum": 0, "type": "quantitative", "scale": {"domain": [0, 30], "nice": false, "zero": false},
"axis": {"orient": "bottom", "labels": false, "ticks": false, "domain": false, "grid": false,
"title": "probe:\u00a0\u00a0\u00a0\u00a0\u00a0\u00a0\u00a05 TCP Pings every 300s\u00a0\u00a0\u00a0\u00a0\u00a0\u00a0\u00a0\u00a0\u00a0\u00a0\u00a0\u00a0\u00a0\u00a0\u00a0\u00a0\u00a0\u00a0\u00a0\u00a0\u00a0\u00a0\u00a0\u00a0\u00a0\u00a0\u00a0\u00a0\u00a0\u00a0\u00a0\u00a0\u00a0\u00a0\u00a0\u00a0Fri Apr 17 18:59:52 2026",
"titleX": -51, "titleY": 62, "titleAlign": "left", "titleBaseline": "top", "titleFont": "DejaVu Sans Mono", "titleFontSize": 11.7, "titleFontWeight": "normal", "titleColor": "#111111", "titleLimit": 1000}},
"y": {"datum": 3.8, "type": "quantitative", "axis": null}
}
},
{
"mark": {"type": "point", "filled": true, "opacity": 1, "color": "#8b1a1a", "clip": false, "shape": "triangle-right", "size": 30},
"encoding": {
"x": {"datum": 30.08, "type": "quantitative", "scale": {"domain": [0, 30], "nice": false, "zero": false},
"axis": {"orient": "bottom",
"values": [0, 1, 2, 3, 4, 5, 6, 7, 8, 9, 10, 11, 12, 13, 14, 15, 16, 17, 18, 19, 20, 21, 22, 23, 24, 25, 26, 27, 28, 29, 30],
"labelExpr": "datum.value == 5 ? 'Thu 18:00' : datum.value == 11 ? 'Fri 00:00' : datum.value == 17 ? 'Fri 06:00' : datum.value == 23 ? 'Fri 12:00' : datum.value == 29 ? 'Fri 18:00' : ''",
"labelFont": "DejaVu Sans Mono", "labelFontSize": 9.8, "labelColor": "#111111", "labelPadding": 2, "labelFlush": false, "labelOverlap": false,
"grid": true, "gridDash": [1, 2],
"gridColor": {"condition": {"test": "datum.value % 3 == 2", "value": "rgba(255,95,95,0.6)"}, "value": "rgba(140,140,140,0.4)"},
"tickSize": 3,
"tickColor": {"condition": {"test": "datum.value % 3 == 2", "value": "#ff5f5f"}, "value": "rgba(0,0,0,0)"},
"domainColor": "#000000",
"title": ["median rtt:\u00a0\u00a02.6 ms avg\u00a0\u00a03.1 ms max\u00a0\u00a02.1 ms min\u00a0\u00a0\u00a02.6 ms now\u00a0\u00a00.2 ms sd\u00a0\u00a016.4\u00a0\u00a0\u00a0am/s", "packet loss: 0.00 % avg\u00a0\u00a00.00 % max\u00a0\u00a00.00 % min\u00a0\u00a0\u00a00.00 % now"],
"titleX": -51, "titleY": 20, "titleAlign": "left", "titleBaseline": "top", "titleFont": "DejaVu Sans Mono", "titleFontSize": 11.7, "titleFontWeight": "normal", "titleLineHeight": 14, "titleColor": "#111111", "titleLimit": 1000,
"zindex": 1}},
"y": {"datum": 0, "type": "quantitative", "axis": null}
}
}
],
"resolve": {"scale": {"x": "independent"}, "axis": {"x": "independent", "y": "independent"}}
}
